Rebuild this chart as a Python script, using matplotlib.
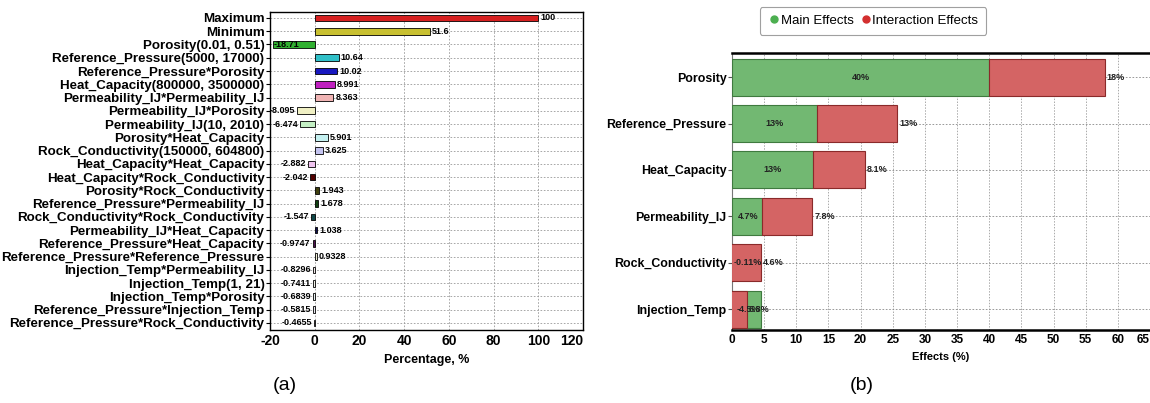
import matplotlib
matplotlib.use("Agg")
import matplotlib.pyplot as plt
from matplotlib.lines import Line2D
import numpy as np

plt.rcParams['font.family'] = ['Liberation Sans', 'DejaVu Sans']

# sensitivity (tornado) data
terms = [
    "Maximum", "Minimum", "Porosity(0.01, 0.51)", "Reference_Pressure(5000, 17000)",
    "Reference_Pressure*Porosity", "Heat_Capacity(800000, 3500000)",
    "Permeability_IJ*Permeability_IJ", "Permeability_IJ*Porosity",
    "Permeability_IJ(10, 2010)", "Porosity*Heat_Capacity",
    "Rock_Conductivity(150000, 604800)", "Heat_Capacity*Heat_Capacity",
    "Heat_Capacity*Rock_Conductivity", "Porosity*Rock_Conductivity",
    "Reference_Pressure*Permeability_IJ", "Rock_Conductivity*Rock_Conductivity",
    "Permeability_IJ*Heat_Capacity", "Reference_Pressure*Heat_Capacity",
    "Reference_Pressure*Reference_Pressure", "Injection_Temp*Permeability_IJ",
    "Injection_Temp(1, 21)", "Injection_Temp*Porosity",
    "Reference_Pressure*Injection_Temp", "Reference_Pressure*Rock_Conductivity",
]
pct = [100, 51.6, -18.71, 10.64, 10.02, 8.991, 8.363, -8.095, -6.474, 5.901,
       3.625, -2.882, -2.042, 1.943, 1.678, -1.547, 1.038, -0.9747, 0.9328,
       -0.8296, -0.7411, -0.6839, -0.5815, -0.4655]
pct_labels = ["100", "51.6", "-18.71", "10.64", "10.02", "8.991", "8.363", "-8.095",
              "-6.474", "5.901", "3.625", "-2.882", "-2.042", "1.943", "1.678",
              "-1.547", "1.038", "-0.9747", "0.9328", "-0.8296", "-0.7411",
              "-0.6839", "-0.5815", "-0.4655"]
bar_colors = ["#d62020", "#c8c030", "#30b030", "#30c0c8", "#1818c0", "#c020c0",
              "#f0b4b4", "#f0f0c4", "#c4f0c4", "#c4f0f0", "#c4c4f0", "#f0c4f0",
              "#500000", "#404010", "#104010", "#104848", "#101050", "#501050",
              "#f0f0d8", "#f0e8e8", "#f0f0e8", "#e8f0f0", "#e8e8f0", "#f0e8f0"]

# main / interaction effects
params = ["Porosity", "Reference_Pressure", "Heat_Capacity", "Permeability_IJ",
          "Rock_Conductivity", "Injection_Temp"]
main_eff = [40, 13.2, 12.6, 4.7, -0.11, -4.5]
inter_eff = [18, 12.5, 8.1, 7.8, 4.6, 6.8]
main_txt = ["40%", "13%", "13%", "4.7%", "-0.11%", "-4.5%"]
inter_txt = ["18%", "13%", "8.1%", "7.8%", "4.6%", "6.8%"]

W, H = 1150, 403
fig = plt.figure(figsize=(W / 100, H / 100), dpi=100)

# ---- (a) tornado chart ----
ax1 = fig.add_axes([270 / W, 1 - 330 / H, 313 / W, 318 / H])
y = np.arange(len(terms))
ax1.barh(y, pct, height=0.5, color=bar_colors, edgecolor="black", linewidth=0.6, zorder=3)
ax1.set_xlim(-20, 120)
ax1.set_ylim(len(terms) - 0.47, -0.45)
ax1.set_yticks(y)
ax1.set_yticklabels(terms, fontsize=9.6, fontweight="bold")
ax1.set_xticks(np.arange(-20, 121, 20))
ax1.set_xticklabels([str(v) for v in range(-20, 121, 20)], fontsize=10, fontweight="bold")
ax1.get_xticklabels()[-1].set_ha("right")
ax1.tick_params(axis="y", length=3, pad=1)
ax1.tick_params(axis="x", length=0, pad=3)
ax1.grid(True, linestyle=(0, (2, 2)), color="#999999", linewidth=0.6, zorder=0)
for s in ax1.spines.values():
    s.set_linewidth(1.0)
ax1.set_xlabel("Percentage, %", fontsize=9, fontweight="bold", labelpad=4)
for yi, v, t in zip(y, pct, pct_labels):
    if v >= 0:
        ax1.text(v + 0.9, yi, t, ha="left", va="center", fontsize=6.5,
                 fontweight="bold", zorder=4)
    elif v < -15:
        ax1.text(v + 0.3, yi, t, ha="left", va="center", fontsize=6.5,
                 fontweight="bold", zorder=4)
    else:
        ax1.text(v - 0.9, yi, t, ha="right", va="center", fontsize=6.5,
                 fontweight="bold", zorder=4)

# ---- (b) main vs interaction effects ----
ax2 = fig.add_axes([732 / W, 1 - 330 / H, 418 / W, 277 / H])
yb = np.arange(len(params))
green, red = "#72b872", "#d46464"
main_w = np.abs(main_eff)
ax2.barh(yb, main_w, height=0.8, color=green, edgecolor="#3f7a3f", linewidth=0.8, zorder=3)
ax2.barh(yb, inter_eff, left=main_eff, height=0.8, color=red, edgecolor="#8a2a2a",
         linewidth=0.8, zorder=3)
ax2.set_xlim(0, 65)
ax2.set_ylim(len(params) - 0.55, -0.52)
ax2.set_yticks(yb)
ax2.set_yticklabels(params, fontsize=8.9, fontweight="bold")
ax2.set_xticks(np.arange(0, 66, 5))
ax2.set_xticklabels([str(v) for v in range(0, 66, 5)], fontsize=8.5, fontweight="bold")
ax2.get_xticklabels()[-1].set_ha("right")
ax2.tick_params(axis="y", length=3, pad=1, color="#555555")
ax2.tick_params(axis="x", length=0, pad=3)
ax2.grid(True, axis="x", linestyle=(0, (1.5, 1.5)), color="#aaaaaa", linewidth=0.7, zorder=0)
ax2.grid(True, axis="y", linestyle=(0, (2, 2)), color="#888888", linewidth=0.6, zorder=0)
ax2.spines["left"].set_color("#777777")
ax2.spines["left"].set_linewidth(0.8)
ax2.spines["right"].set_visible(False)
ax2.spines["top"].set_linewidth(1.8)
ax2.spines["bottom"].set_linewidth(1.8)
ax2.set_xlabel("Effects (%)", fontsize=8, fontweight="bold", labelpad=4)
for yi, m, w, it, mt, itx in zip(yb, main_eff, main_w, inter_eff, main_txt, inter_txt):
    ax2.text(max(w / 2, 2.5), yi, mt, ha="center", va="center", fontsize=6.5,
             fontweight="bold", color="#222222", zorder=4)
    ax2.text(m + it + 0.3, yi, itx, ha="left", va="center", fontsize=6.5,
             fontweight="bold", color="#222222", zorder=4)

handles = [Line2D([], [], marker="o", linestyle="none", markersize=5,
                  markerfacecolor="#4caf50", markeredgecolor="#4caf50"),
           Line2D([], [], marker="o", linestyle="none", markersize=5,
                  markerfacecolor="#d32f2f", markeredgecolor="#d32f2f")]
leg = fig.legend(handles, ["Main Effects", "Interaction Effects"], ncol=2,
                 loc="center", bbox_to_anchor=(873 / W, 1 - 21 / H), fontsize=9.5,
                 handletextpad=0.0, columnspacing=0.4, handlelength=1.0,
                 borderpad=0.6, frameon=True, fancybox=True)
leg.get_frame().set_edgecolor("#888888")
leg.get_frame().set_linewidth(0.8)

fig.text(285 / W, 1 - 385 / H, "(a)", ha="center", va="center", fontsize=14)
fig.text(862 / W, 1 - 385 / H, "(b)", ha="center", va="center", fontsize=14)

fig.savefig("out.png", dpi=100)
